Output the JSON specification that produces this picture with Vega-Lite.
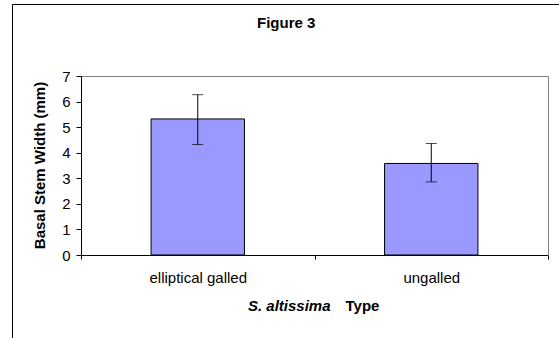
{
  "$schema": "https://vega.github.io/schema/vega-lite/v6.json",
  "width": 560,
  "height": 342,
  "autosize": {"type": "none"},
  "padding": {"left": 12, "top": 4, "right": -13, "bottom": -8},
  "background": "white",
  "title": {"text": "Figure 3", "font": "Liberation Sans", "fontSize": 15, "fontWeight": "bold", "color": "black", "anchor": "start", "frame": "group", "baseline": "middle", "offset": -34, "dx": 245},
  "config": {
    "view": {"stroke": "black", "strokeWidth": 1},
    "font": "Liberation Sans"
  },
  "data": {
    "values": [
      {"type": "elliptical galled", "mean": 5.32, "lo": 4.32, "hi": 6.27},
      {"type": "ungalled", "mean": 3.58, "lo": 2.86, "hi": 4.36}
    ]
  },
  "layer": [
    {
      "mark": {"type": "bar", "width": {"band": 0.4}, "fill": "#9999FF", "stroke": "black", "strokeWidth": 1},
      "encoding": {
        "x": {
          "field": "type", "type": "nominal", "sort": null,
          "scale": {"range": [69, 536], "paddingInner": 0, "paddingOuter": 0},
          "axis": {
            "orient": "bottom", "offset": -91, "grid": false,
            "domainColor": "black", "domainWidth": 1,
            "tickColor": "black", "tickSize": 4, "tickWidth": 1, "tickBand": "extent",
            "labelFont": "Liberation Sans", "labelFontSize": 15, "labelColor": "black", "labelPadding": 11, "labelAngle": 0,
            "title": "S. altissima", "titleFont": "Liberation Sans", "titleFontSize": 15, "titleFontWeight": "bold", "titleFontStyle": "italic", "titleColor": "black",
            "titleX": 318, "titleY": 50, "titleAlign": "right", "titleBaseline": "middle"
          }
        },
        "y": {
          "field": "mean", "type": "quantitative",
          "scale": {"domain": [0, 7], "range": [251, 72], "nice": false, "zero": true},
          "axis": {
            "orient": "left", "offset": -69, "grid": false, "values": [0, 1, 2, 3, 4, 5, 6, 7],
            "domainColor": "black", "domainWidth": 1,
            "tickColor": "black", "tickSize": 5, "tickWidth": 1,
            "labelFont": "Liberation Sans", "labelFontSize": 15, "labelColor": "black", "labelPadding": 6,
            "title": "Basal Stem Width (mm)", "titleFont": "Liberation Sans", "titleFontSize": 15, "titleFontWeight": "bold", "titleColor": "black",
            "titleX": -42, "titleY": 161, "titleAngle": 270, "titleAlign": "center", "titleBaseline": "middle"
          }
        }
      }
    },
    {
      "mark": {"type": "rule", "color": "black", "strokeWidth": 1},
      "encoding": {
        "x": {
          "field": "type", "type": "nominal", "sort": null,
          "scale": {"range": [69, 536], "paddingInner": 0, "paddingOuter": 0},
          "axis": {"orient": "top", "offset": -72, "domainColor": "#808080", "domainWidth": 1, "ticks": false, "labels": false, "grid": false, "title": null}
        },
        "y": {
          "field": "lo", "type": "quantitative",
          "scale": {"domain": [0, 7], "range": [251, 72], "nice": false, "zero": true},
          "axis": {"orient": "right", "offset": -24, "domainColor": "#808080", "domainWidth": 1, "ticks": false, "labels": false, "grid": false, "title": null}
        },
        "y2": {"field": "hi"}
      }
    },
    {
      "mark": {"type": "tick", "orient": "horizontal", "size": 11, "thickness": 1, "color": "black"},
      "encoding": {
        "x": {
          "field": "type", "type": "nominal", "sort": null,
          "scale": {"range": [69, 536], "paddingInner": 0, "paddingOuter": 0},
          "axis": {
            "orient": "bottom", "offset": -91, "domain": false, "ticks": false, "labels": false, "grid": false,
            "title": "Type", "titleFont": "Liberation Sans", "titleFontSize": 15, "titleFontWeight": "bold", "titleColor": "black",
            "titleX": 333, "titleY": 50, "titleAlign": "left", "titleBaseline": "middle"
          }
        },
        "y": {
          "field": "lo", "type": "quantitative",
          "scale": {"domain": [0, 7], "range": [251, 72], "nice": false, "zero": true},
          "axis": null
        }
      }
    },
    {
      "mark": {"type": "tick", "orient": "horizontal", "size": 11, "thickness": 1, "color": "black"},
      "encoding": {
        "x": {
          "field": "type", "type": "nominal", "sort": null,
          "scale": {"range": [69, 536], "paddingInner": 0, "paddingOuter": 0},
          "axis": null
        },
        "y": {
          "field": "hi", "type": "quantitative",
          "scale": {"domain": [0, 7], "range": [251, 72], "nice": false, "zero": true},
          "axis": null
        }
      }
    }
  ],
  "resolve": {"axis": {"x": "independent", "y": "independent"}}
}
